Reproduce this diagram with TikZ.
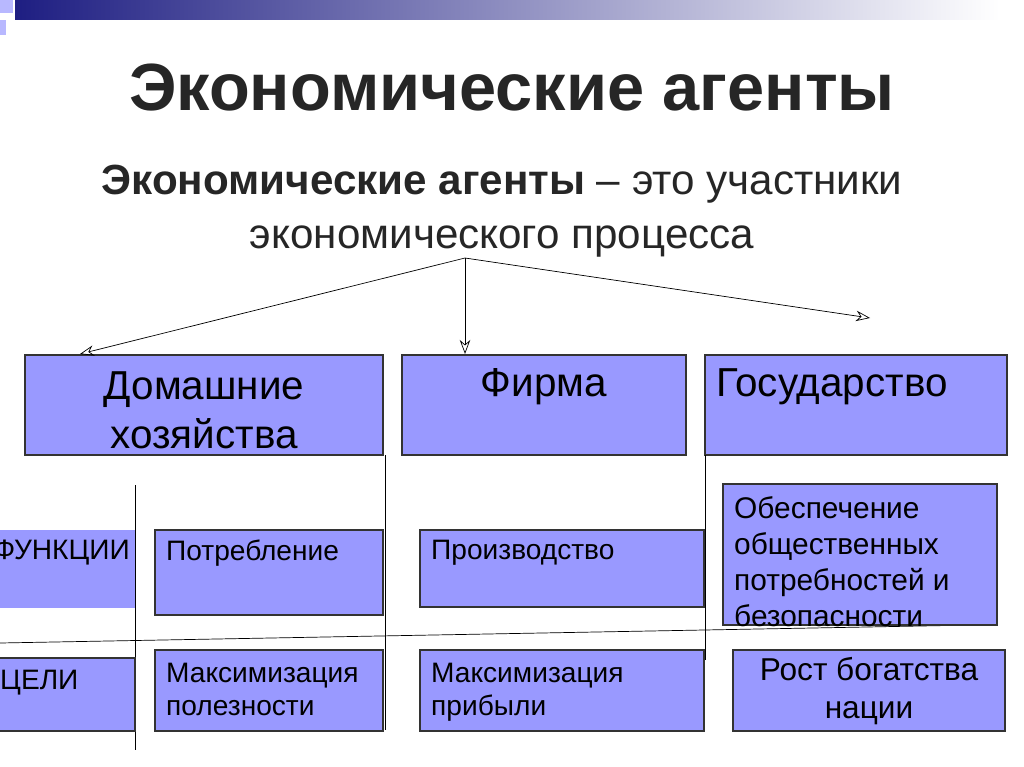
\documentclass[tikz,border=0pt]{standalone}
\usepackage{fontspec}
\setmainfont{Liberation Sans}
\usetikzlibrary{positioning,arrows.meta}
\definecolor{boxblue}{RGB}{153,153,255}
\definecolor{bandblue}{RGB}{30,30,130}
\tikzset{
  agent/.style={draw=black!80, fill=boxblue, thick, minimum height=2cm},
  cell/.style={draw=black!80, fill=boxblue, thick},
  link/.style={-{Stealth[length=8pt,width=6pt,open]}, thin}
}
\begin{document}
\begin{tikzpicture}[x=0.02cm, y=-0.02cm]
    \useasboundingbox (0,0) rectangle (1024,767);
    \clip (0,0) rectangle (1024,767);

    % header band
    \shade[left color=bandblue, right color=white] (15,0) rectangle (1000,20);
    \fill[boxblue!70] (0,0) rectangle (13,13);
    \fill[boxblue!70] (0,20) rectangle (6,35);

    % title
    \node[font=\bfseries\fontsize{38}{42}\selectfont, text=black!85] (title) at (512,88) {Экономические агенты};
    \node[font=\fontsize{24}{31}\selectfont, text=black!85, align=center] (def) at (502,211)
      {\textbf{Экономические агенты} -- это участники\\экономического процесса};
    \coordinate (hub) at (465,258);
    \coordinate (right) at (870,318);

    % agent boxes
    \draw[agent] (25,355) rectangle (383,455);
    \node[font=\fontsize{23}{28}\selectfont, align=center] (home) at (204,410) {Домашние\\хозяйства};
    \draw[agent] (402,355) rectangle (686,455);
    \node[font=\fontsize{23}{28}\selectfont] (firm) at (544,387) {Фирма};
    \draw[agent] (705,355) rectangle (1007,455);
    \node[font=\fontsize{23}{28}\selectfont, anchor=west] (state) at (710,387) {Государство};

    % arrows
    \draw[link] (hub) -- (80,354);
    \draw[link] (hub) -- (465,354);
    \draw[link] (hub) -- (right);

    % separators
    \draw (135,485) -- (135,750);
    \draw (385,455) -- (385,730);
    \draw (705,455) -- (705,660);
    \draw (0,643) -- (975,625);

    % row headers
    \fill[boxblue] (0,530) rectangle (135,608);
    \node[font=\fontsize{16}{19}\selectfont, anchor=east] (func) at (136,553) {ФУНКЦИИ};
    \draw[cell] (-5,658) rectangle (135,731);
    \node[font=\fontsize{16}{19}\selectfont, anchor=west] (goal) at (-6,683) {ЦЕЛИ};

    % functions
    \draw[cell] (155,530) rectangle (383,615);
    \node[font=\fontsize{16}{19}\selectfont, anchor=west] (cons) at (160,553) {Потребление};
    \draw[cell] (420,530) rectangle (704,607);
    \node[font=\fontsize{16}{19}\selectfont, anchor=west] (prod) at (425,553) {Производство};
    \draw[cell] (723,484) rectangle (997,625);
    \node[font=\fontsize{17}{20.5}\selectfont, anchor=north west, align=left] (pub) at (728,490)
      {Обеспечение\\общественных\\потребностей и\\безопасности};

    % goals
    \draw[cell] (155,650) rectangle (383,731);
    \node[font=\fontsize{16}{19}\selectfont, anchor=north west, align=left] (util) at (160,657)
      {Максимизация\\полезности};
    \draw[cell] (420,650) rectangle (704,731);
    \node[font=\fontsize{16}{19}\selectfont, anchor=north west, align=left] (profit) at (425,657)
      {Максимизация\\прибыли};
    \draw[cell] (733,650) rectangle (1005,731);
    \node[font=\fontsize{18}{22}\selectfont, align=center] (wealth) at (869,691)
      {Рост богатства\\нации};
\end{tikzpicture}
\end{document}
